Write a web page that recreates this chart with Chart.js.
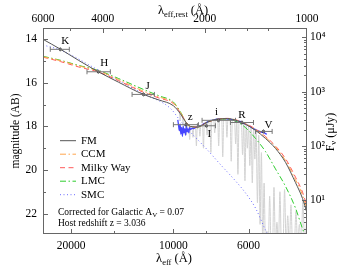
<!DOCTYPE html>
<html><head><meta charset="utf-8">
<script src="https://cdn.jsdelivr.net/npm/chart.js@4.4.1/dist/chart.umd.min.js"></script>
<style>html,body{margin:0;padding:0;background:#fff;overflow:hidden}canvas{display:block}</style>
</head><body>
<canvas id="c" width="350" height="266" style="width:350px;height:266px"></canvas>
<script>
const HOST_Z = 3.036;
const GAL_AV = 0.07;
const REST_MIN = 1000, REST_MAX = 6000;
const MAG_MIN = 13.48, MAG_MAX = 22.94;

// extinction-model curves (observed wavelength in Å, AB magnitude)
const modelLam = [24216, 21535, 19000, 16634, 14500, 12251, 11000, 9994, 9530, 9170, 8905, 8490, 7932, 7412, 6925, 6471, 6130, 5725, 5351, 4999, 4670, 4364, 4160, 4036];
const fmMag  = [14.00, 14.45, 14.97, 15.49, 15.97, 16.53, 16.79, 17.05, 17.42, 17.82, 18.00, 18.03, 17.80, 17.67, 17.64, 17.74, 17.90, 18.18, 18.55, 19.01, 19.65, 20.58, 21.31, 21.98];
const ccmMag = [14.80, 14.98, 15.22, 15.45, 15.85, 16.38, 16.65, 16.92, 17.35, 17.80, 18.00, 18.03, 17.80, 17.67, 17.64, 17.73, 17.88, 18.15, 18.50, 18.95, 19.57, 20.45, 21.15, 21.82];
const mwMag  = [14.82, 15.02, 15.27, 15.50, 15.90, 16.43, 16.70, 16.95, 17.38, 17.80, 18.00, 18.03, 17.80, 17.67, 17.63, 17.72, 17.86, 18.12, 18.46, 18.90, 19.48, 20.33, 21.02, 21.68];
const lmcMag = [14.78, 14.96, 15.20, 15.43, 15.80, 16.30, 16.60, 16.88, 17.33, 17.80, 18.00, 18.03, 17.80, 17.67, 17.66, 17.80, 18.05, 18.55, 19.15, 19.95, 20.75, 21.75, 22.70, 23.20];
const smcLam = [24216, 21535, 16413, 12251, 10198, 9528, 8904, 7932, 7263, 6559, 6130, 5725, 5351, 5172];
const smcMag = [14.26, 14.49, 15.46, 16.50, 17.17, 17.75, 18.26, 19.08, 19.75, 20.50, 21.05, 21.75, 22.75, 23.20];

// model spectrum with absorption lines (grey)
const grayLam = [9700, 9600, 9550, 9500, 9400, 9350, 9300, 9200, 9150, 9100, 9000, 8950, 8900, 8800, 8750, 8700, 8600, 8550, 8500, 8400, 8350, 8300, 8200, 8150, 8100, 8000, 7950, 7900, 7800, 7750, 7700, 7600, 7550, 7500, 7400, 7350, 7300, 7200, 7150, 7100, 7000, 6950, 6900, 6800, 6750, 6700, 6600, 6550, 6500, 6450, 6400, 6300, 6250, 6200, 6150, 6100, 6050, 6000, 5950, 5900, 5850, 5800, 5750, 5700, 5650, 5600, 5550, 5500, 5450, 5400, 5350, 5300, 5250, 5200, 5150, 5100, 5050, 5000, 4950, 4900, 4850, 4800, 4750, 4700, 4650, 4600, 4550, 4500, 4450, 4400, 4350, 4300, 4250, 4200, 4150, 4100, 4050];
const grayMag = [17.30, 17.36, 17.70, 17.45, 17.58, 18.10, 17.68, 17.80, 18.40, 17.88, 17.95, 18.60, 18.00, 18.02, 18.50, 18.03, 18.03, 18.90, 18.03, 18.01, 18.45, 17.98, 17.93, 19.00, 17.88, 17.83, 18.40, 17.79, 17.75, 19.20, 17.72, 17.69, 18.30, 17.67, 17.66, 18.90, 17.65, 17.64, 19.40, 17.64, 17.64, 18.50, 17.64, 17.66, 19.60, 17.68, 17.70, 18.80, 17.73, 20.20, 17.76, 17.80, 19.30, 17.84, 20.50, 17.91, 19.00, 17.97, 19.80, 18.04, 20.60, 18.12, 19.50, 18.20, 21.50, 18.40, 22.50, 19.20, 23.50, 20.60, 23.50, 22.80, 23.50, 21.20, 23.50, 23.50, 20.80, 23.50, 22.40, 23.50, 21.00, 23.50, 23.50, 20.90, 23.50, 22.10, 23.50, 21.60, 23.50, 23.50, 21.90, 23.50, 22.50, 23.50, 21.40, 23.50, 22.40];

// observed spectrum (blue)
const obsLam = [9700, 9650, 9600, 9550, 9500, 9450, 9400, 9350, 9300, 9250, 9200, 9150, 9100, 9050, 9000, 8950, 8900, 8800, 8700, 8600, 8500, 8400, 8300, 8200, 8100, 8000, 7900, 7800, 7700, 7600, 7500, 7400, 7300, 7200, 7100, 7000, 6900, 6800, 6700, 6600, 6500, 6400, 6300, 6200, 6100, 6000, 5900, 5800, 5700, 5600, 5500, 5400, 5300];
const obsMag = [17.70, 17.95, 18.20, 17.90, 18.35, 18.05, 18.45, 18.00, 18.30, 18.10, 18.40, 17.95, 18.25, 18.10, 18.30, 18.05, 18.15, 18.08, 18.10, 18.04, 18.02, 17.98, 17.96, 17.92, 17.86, 17.83, 17.78, 17.74, 17.72, 17.69, 17.68, 17.65, 17.66, 17.64, 17.65, 17.64, 17.66, 17.67, 17.69, 17.71, 17.74, 17.76, 17.80, 17.85, 17.90, 17.96, 18.03, 18.10, 18.16, 18.22, 18.26, 18.30, 18.36];

// photometry
const photBand   = ['K', 'H', 'J', 'z', 'I', 'i', 'R', 'V'];
const photLam    = [21535, 16634, 12240, 9170, 7990, 7363, 6276, 5424];
const photMag    = [14.46, 15.49, 16.53, 17.92, 17.97, 17.72, 17.82, 18.23];
const photLamLo  = [20255, 15331, 11371, 8433, 7513, 6559, 5803, 5113];
const photLamHi  = [23047, 17965, 13230, 9994, 8490, 8227, 6786, 5725];
const photMagErr = [0.05, 0.05, 0.05, 0.05, 0.05, 0.05, 0.05, 0.05];

// ticks
const obsTicks = [20000, 10000, 6000];
const obsMinor = [15000, 8000];
const restTicks = [6000, 4000, 2000, 1000];
const restMinor = [5000, 3500, 3000, 2500, 1750, 1500, 1300];
const magTicks = [14, 16, 18, 20, 22];
const magMinor = [15, 17, 19, 21, 23];
const fluxTicks = [10, 100, 1000, 10000];
const fluxLabels = ['10\u00B9', '10\u00B2', '10\u00B3', '10\u2074'];
const fluxMinor = [3, 4, 5, 6, 7, 8, 9, 20, 30, 40, 50, 60, 70, 80, 90, 200, 300, 400, 500, 600, 700, 800, 900, 2000, 3000, 4000, 5000, 6000, 7000, 8000, 9000];

// styles (kept apart from data)
const bandDx = [5, 6, 4, 4, 3, -2, 0, 5];
const bandDy = [-8, -9, -8, -8, 8, -8, -7, -6];
const SERIF = "'Liberation Serif','Times New Roman',serif";

const pts = (l, m) => l.map((v, i) => ({x: v, y: m[i]}));
const abToFlux = m => Math.pow(10, (23.9 - m) / 2.5);

const lineDs = (label, l, m, color, dash, order, width) => ({
  label, data: pts(l, m), showLine: true, borderColor: color, borderWidth: width || 1,
  borderDash: dash, pointRadius: 0, cubicInterpolationMode: 'monotone', order, fill: false
});

function rich(c, parts, x, y, align) {
  let w = 0;
  parts.forEach(p => { c.font = p[1] + 'px ' + SERIF; w += c.measureText(p[0]).width; });
  let cx = align === 'center' ? x - w / 2 : x;
  c.textAlign = 'left';
  parts.forEach(p => { c.font = p[1] + 'px ' + SERIF; c.fillText(p[0], cx, y + p[2]); cx += c.measureText(p[0]).width; });
}

const deco = {
  id: 'deco',
  afterDatasetsDraw(ch) {
    const c = ch.ctx, xs = ch.scales.x, ys = ch.scales.y;
    c.save();
    c.strokeStyle = '#777'; c.lineWidth = 1;
    photLam.forEach((l, i) => {
      const y = ys.getPixelForValue(photMag[i]);
      const x1 = xs.getPixelForValue(photLamLo[i]), x2 = xs.getPixelForValue(photLamHi[i]);
      const xc = xs.getPixelForValue(l);
      c.beginPath();
      c.moveTo(x1, y); c.lineTo(x2, y);
      c.moveTo(x1, y - 2.5); c.lineTo(x1, y + 2.5);
      c.moveTo(x2, y - 2.5); c.lineTo(x2, y + 2.5);
      c.moveTo(xc, ys.getPixelForValue(photMag[i] - photMagErr[i]) - 1);
      c.lineTo(xc, ys.getPixelForValue(photMag[i] + photMagErr[i]) + 1);
      c.stroke();
    });
    c.fillStyle = '#000'; c.font = '11px ' + SERIF; c.textAlign = 'center'; c.textBaseline = 'middle';
    photBand.forEach((b, i) => {
      c.fillText(b, xs.getPixelForValue(photLam[i]) + bandDx[i], ys.getPixelForValue(photMag[i]) + bandDy[i]);
    });
    c.restore();
  },
  afterDraw(ch) {
    const c = ch.ctx, a = ch.chartArea, s = ch.scales;
    c.save();
    c.strokeStyle = '#666'; c.lineWidth = 1;
    c.strokeRect(Math.round(a.left) + 0.5, Math.round(a.top) + 0.5, Math.round(a.right - a.left) - 1, Math.round(a.bottom - a.top) - 1);
    c.beginPath();
    const tx = (sc, vals, len, top) => vals.forEach(v => {
      const p = Math.round(sc.getPixelForValue(v)) + 0.5;
      if (p < a.left || p > a.right) return;
      if (top) { c.moveTo(p, a.top); c.lineTo(p, a.top + len); }
      else { c.moveTo(p, a.bottom); c.lineTo(p, a.bottom - len); }
    });
    const ty = (sc, vals, len, right) => vals.forEach(v => {
      const p = Math.round(sc.getPixelForValue(v)) + 0.5;
      if (p < a.top || p > a.bottom) return;
      if (right) { c.moveTo(a.right, p); c.lineTo(a.right - len, p); }
      else { c.moveTo(a.left, p); c.lineTo(a.left + len, p); }
    });
    tx(s.x, obsTicks, 5, false); tx(s.x, obsMinor, 3, false);
    tx(s.x2, restTicks, 5, true); tx(s.x2, restMinor, 3, true);
    ty(s.y, magTicks, 5, false); ty(s.y, magMinor, 3, false);
    ty(s.y2, fluxTicks, 5, true); ty(s.y2, fluxMinor, 3, true);
    c.stroke();

    c.fillStyle = '#000'; c.textBaseline = 'alphabetic';
    rich(c, [['\u03BB', 12.5, 0], ['eff', 8.5, 2.5], [' (\u00C5)', 12.5, 0]], 174, 262, 'center');
    rich(c, [['\u03BB', 12.5, 0], ['eff,rest', 8.5, 2.5], [' (\u00C5)', 12.5, 0]], 158, 14, 'left');
    c.save(); c.translate(16, 131); c.rotate(-Math.PI / 2);
    c.textBaseline = 'middle';
    rich(c, [['magnitude (AB)', 11.5, 0]], 0, 0, 'center');
    c.restore();
    c.save(); c.translate(331, 132); c.rotate(-Math.PI / 2);
    c.textBaseline = 'middle';
    rich(c, [['F', 12, 0], ['\u03BD', 8.5, 2.5], [' (\u03BCJy)', 12, 0]], 0, 0, 'center');
    c.restore();

    const order = ['FM', 'CCM', 'Milky Way', 'LMC', 'SMC'];
    c.textBaseline = 'middle';
    order.forEach((lab, i) => {
      const ds = ch.data.datasets.find(d => d.label === lab);
      const y = 140.7 + i * 13.5;
      c.strokeStyle = ds.borderColor; c.lineWidth = ds.borderWidth;
      c.setLineDash(ds.borderDash || []);
      c.beginPath(); c.moveTo(60, y); c.lineTo(76, y); c.stroke();
      c.setLineDash([]);
      c.fillStyle = '#000'; c.font = '11px ' + SERIF; c.textAlign = 'left';
      c.fillText(lab, 81, y);
    });

    c.textBaseline = 'alphabetic'; c.fillStyle = '#000';
    rich(c, [['Corrected for Galactic A', 9.5, 0], ['V', 7, 2], [' = ' + GAL_AV.toFixed(2), 9.5, 0]], 58, 215, 'left');
    rich(c, [['Host redshift z = ' + HOST_Z.toFixed(3), 9.5, 0]], 58, 225.5, 'left');
    c.restore();
  }
};

const tickFont = {family: SERIF, size: 11.5};
const hideGrid = {display: false, drawTicks: false};

new Chart(document.getElementById('c'), {
  type: 'scatter',
  data: {datasets: [
    lineDs('spectrum', grayLam, grayMag, '#d2d2d2', [], 10, 1),
    lineDs('observed', obsLam, obsMag, '#4646ff', [], 9, 1.3),
    lineDs('SMC', smcLam, smcMag, '#6b6bff', [1, 2.5], 8, 1),
    lineDs('LMC', modelLam, lmcMag, '#2ecc2e', [6, 2.5, 1.5, 2.5], 7, 1),
    lineDs('Milky Way', modelLam, mwMag, '#ff5a5a', [5, 3.5], 6, 1),
    lineDs('CCM', modelLam, ccmMag, '#ffa64d', [6, 2.5, 1.5, 2.5], 5, 1),
    lineDs('FM', modelLam, fmMag, '#555555', [], 4, 1),
    {label: 'phot', data: pts(photLam, photMag), showLine: false, pointRadius: 1.6, pointBackgroundColor: '#333', pointBorderColor: '#333', pointBorderWidth: 0, order: 1}
  ]},
  options: {
    responsive: false, animation: false, events: [],
    layout: {padding: 0},
    plugins: {legend: {display: false}, tooltip: {enabled: false}},
    scales: {
      x: {type: 'logarithmic', position: 'bottom', reverse: true,
          min: REST_MIN * (1 + HOST_Z), max: REST_MAX * (1 + HOST_Z),
          grid: hideGrid, border: {display: false},
          ticks: {autoSkip: false, maxRotation: 0, font: tickFont, color: '#000', padding: 5, callback: v => String(v)},
          afterBuildTicks: sc => { sc.ticks = obsTicks.map(v => ({value: v})); },
          afterFit: sc => { sc.height = 32; }},
      x2: {type: 'logarithmic', position: 'top', reverse: true, min: REST_MIN, max: REST_MAX,
          grid: hideGrid, border: {display: false},
          ticks: {autoSkip: false, maxRotation: 0, font: tickFont, color: '#000', padding: 2, callback: v => String(v)},
          afterBuildTicks: sc => { sc.ticks = restTicks.map(v => ({value: v})); },
          afterFit: sc => { sc.height = 28; }},
      y: {type: 'linear', position: 'left', reverse: true, min: MAG_MIN, max: MAG_MAX,
          grid: hideGrid, border: {display: false},
          ticks: {autoSkip: false, font: tickFont, color: '#000', padding: 6, callback: v => String(v)},
          afterBuildTicks: sc => { sc.ticks = magTicks.map(v => ({value: v})); },
          afterFit: sc => { sc.width = 43; }},
      y2: {type: 'logarithmic', position: 'right', min: abToFlux(MAG_MAX), max: abToFlux(MAG_MIN),
          grid: hideGrid, border: {display: false},
          ticks: {autoSkip: false, font: tickFont, color: '#000', padding: 3,
                  callback: v => fluxLabels[fluxTicks.indexOf(v)] || ''},
          afterBuildTicks: sc => { sc.ticks = fluxTicks.map(v => ({value: v})); },
          afterFit: sc => { sc.height; sc.width = 43; }}
    }
  },
  plugins: [deco]
});
</script>
</body></html>
